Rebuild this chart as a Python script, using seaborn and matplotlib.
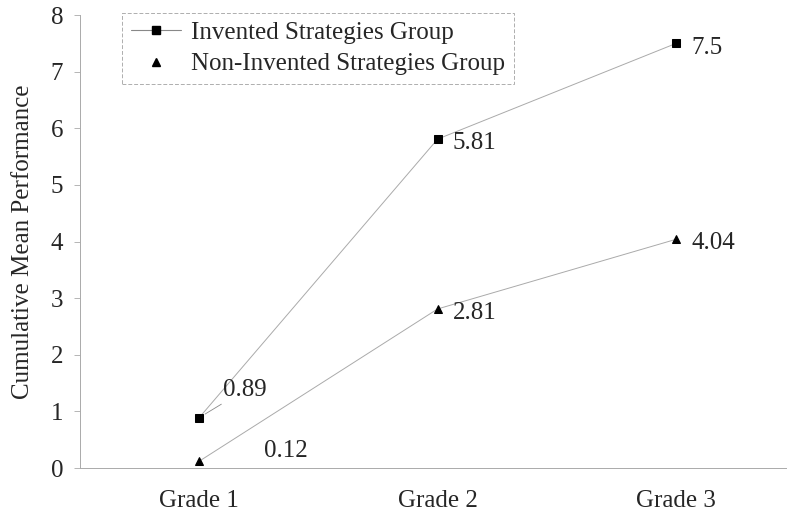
import pandas as pd
import matplotlib.pyplot as plt
import seaborn as sns
from matplotlib.lines import Line2D

grades = ['Grade 1', 'Grade 2', 'Grade 3']
invented = [0.89, 5.81, 7.5]
non_invented = [0.12, 2.81, 4.04]
y_ticks = [0, 1, 2, 3, 4, 5, 6, 7, 8]

sns.set_style('white')
plt.rcParams['font.family'] = ['Liberation Serif', 'DejaVu Serif']

df = pd.DataFrame({
    'grade': grades * 2,
    'value': invented + non_invented,
    'group': ['Invented Strategies Group'] * 3 + ['Non-Invented Strategies Group'] * 3,
})

fig = plt.figure(figsize=(7.96, 5.22), dpi=100)
ax = fig.add_axes([0.1005, 0.1034, 0.8865, 0.8676])

sns.lineplot(data=df, x='grade', y='value', hue='group', style='group',
             markers={'Invented Strategies Group': 's', 'Non-Invented Strategies Group': '^'},
             dashes=False, palette=['#aaaaaa', '#aaaaaa'], linewidth=0.7,
             markersize=6, markerfacecolor='black', markeredgecolor='black',
             legend=False, ax=ax)

ax.set_xlim(-0.5, 2.46)
ax.set_ylim(0, 8)
ax.set_yticks(y_ticks)
ax.tick_params(axis='y', labelsize=18, length=4, width=0.6, color='#aaaaaa',
               direction='out', left=True, pad=8)
ax.tick_params(axis='x', labelsize=18, length=0, pad=16)
ax.set_xlabel('')
ax.set_ylabel('Cumulative Mean Performance', fontsize=18, labelpad=12)
for s in ['top', 'right']:
    ax.spines[s].set_visible(False)
for s in ['left', 'bottom']:
    ax.spines[s].set_color('#aaaaaa')
    ax.spines[s].set_linewidth(0.7)

# value labels
ax.annotate('0.89', xy=(0, invented[0]), xytext=(0.1, 1.38), fontsize=18,
            ha='left', va='center',
            arrowprops=dict(arrowstyle='-', color='#888888', lw=0.6, shrinkA=0, shrinkB=5))
ax.annotate('0.12', xy=(0, non_invented[0]), xytext=(0.27, 0.3), fontsize=18,
            ha='left', va='center')
for i in (1, 2):
    ax.annotate(f'{invented[i]:g}', xy=(i, invented[i]), xytext=(11, -3),
                textcoords='offset points', fontsize=18, ha='left', va='center')
    ax.annotate(f'{non_invented[i]:g}', xy=(i, non_invented[i]), xytext=(11, -3),
                textcoords='offset points', fontsize=18, ha='left', va='center')

handles = [
    Line2D([], [], color='#888888', lw=0.8, marker='s', markersize=6,
           markerfacecolor='black', markeredgecolor='black'),
    Line2D([], [], color='none', marker='^', markersize=6,
           markerfacecolor='black', markeredgecolor='black'),
]
leg = ax.legend(handles, ['Invented Strategies Group', 'Non-Invented Strategies Group'],
                loc='upper left', bbox_to_anchor=(0.06, 1.005), fontsize=18,
                frameon=True, fancybox=False, borderpad=0.35, handlelength=2.0,
                handletextpad=0.4, labelspacing=0.35, borderaxespad=0)
leg.get_frame().set_edgecolor('#999999')
leg.get_frame().set_linestyle((0, (4, 2)))
leg.get_frame().set_linewidth(0.7)

plt.savefig('out.png', dpi=100)
plt.close()
